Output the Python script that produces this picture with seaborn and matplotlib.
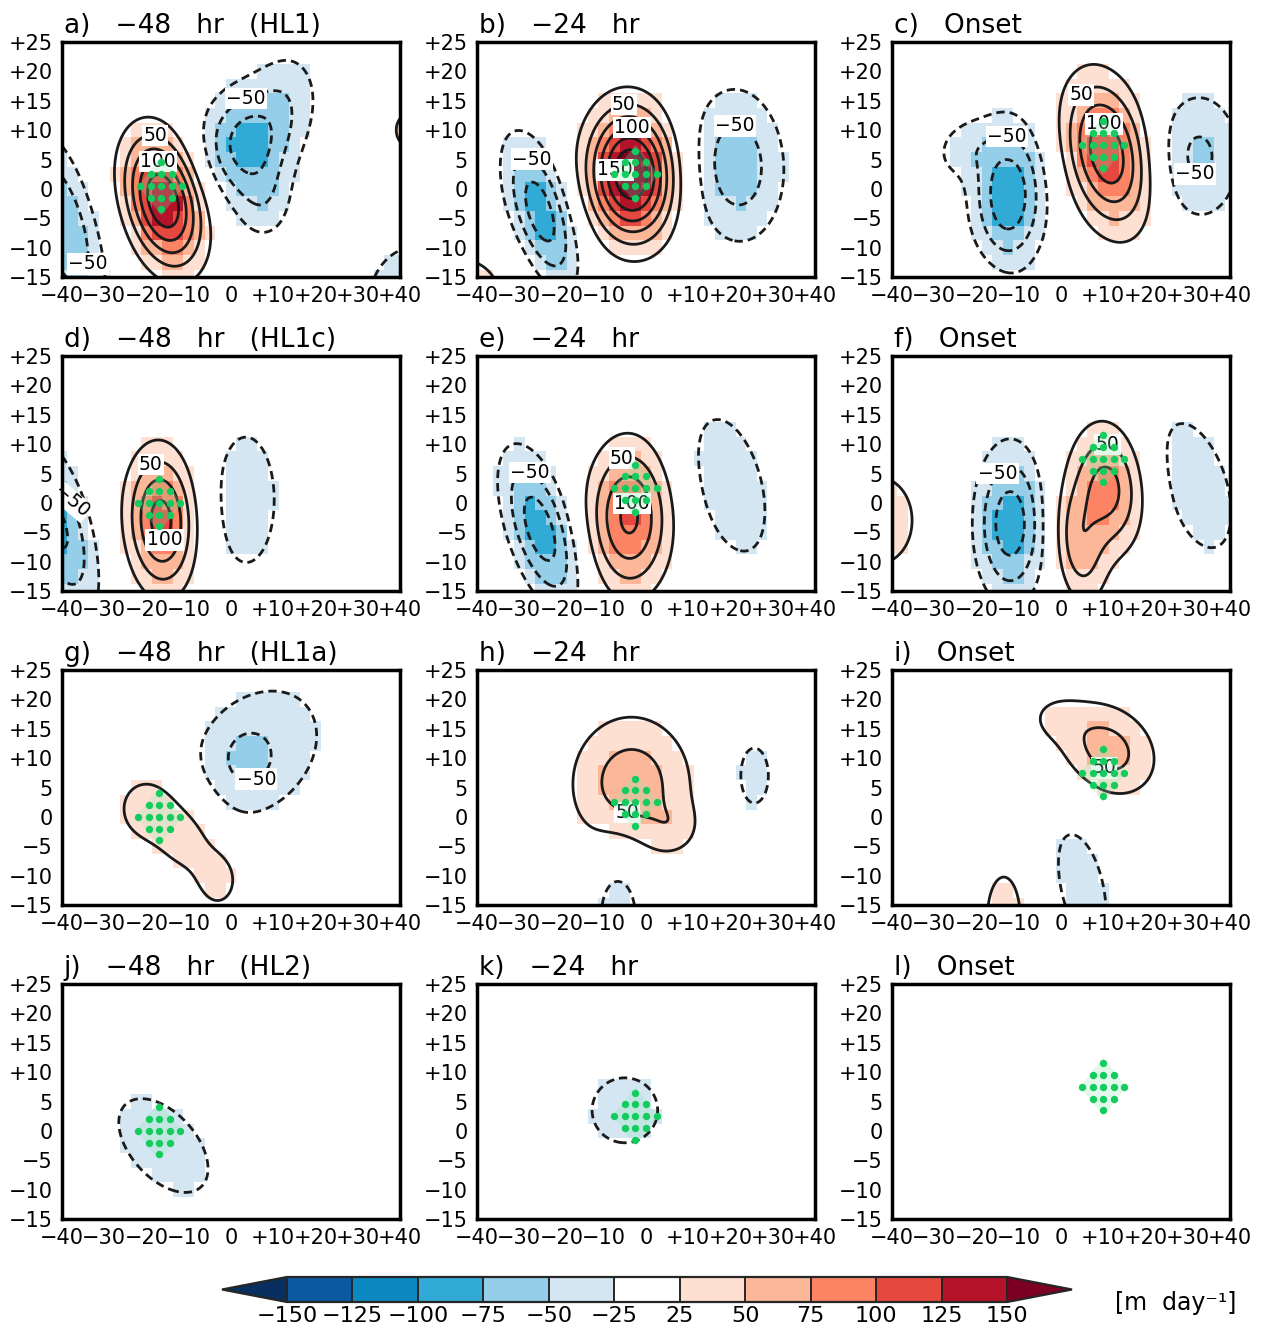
import numpy as np
import matplotlib
matplotlib.use("Agg")
import matplotlib.pyplot as plt
from matplotlib.colors import ListedColormap, BoundaryNorm
from matplotlib.cm import ScalarMappable
import seaborn as sns

# ------------------------------------------------------------------ data
PANEL_TITLES = ["a)   −48   hr   (HL1)", "b)   −24   hr", "c)   Onset",
                "d)   −48   hr   (HL1c)", "e)   −24   hr", "f)   Onset",
                "g)   −48   hr   (HL1a)", "h)   −24   hr", "i)   Onset",
                "j)   −48   hr   (HL2)", "k)   −24   hr", "l)   Onset"]

# anomaly centres:
# (x centre, y centre, peak value [m/day], half-width a, half-width b, axis angle deg)
BLOBS_A = [(-16, -2, 150, 8.0, 5.6, -62), (3, 7.5, -80, 7, 6.5, 0),
           (13, 15, -38, 7, 6, 60), (8, -3, -30, 5, 5, 0),
           (-40, -6, -75, 12, 5.2, -65), (42, -19, -45, 9, 8, 30),
           (42.5, 10, 40, 3.5, 3, 0)]
BLOBS_B = [(-3.5, 2.5, 175, 7.6, 6.8, -75), (-25, -4, -90, 9.5, 4.6, -63),
           (21.5, 4, -65, 9.4, 8, -80), (-43, -19, 40, 9, 7, 0)]
BLOBS_C = [(11, 6, 120, 9, 6.3, -65), (-12.5, -1, -95, 6, 8.5, 0),
           (-24, 7, -30, 5, 3.5, 20), (32.5, 5.5, -55, 7.5, 8, 0),
           (-28, -19.5, 32, 10, 4.8, -10)]
BLOBS_D = [(-16.5, -3, 110, 8, 5.5, -85), (-41, -4, -80, 11, 5, -65),
           (3.5, 0.5, -42, 6.6, 10.5, 0)]
BLOBS_E = [(-4, -2.5, 105, 8.5, 6.5, -88), (-25, -4.5, -90, 10, 4.8, -62),
           (20, 3, -45, 11, 6.5, -65)]
BLOBS_F = [(11, 2.5, 85, 7.5, 6, -80), (4, -8, 55, 7, 4, -75),
           (-12, -3.5, -90, 5.7, 9, 0), (32, 3, -40, 12, 7, -60),
           (-43, -3, 40, 8, 7.5, 0)]
BLOBS_G = [(-19, 1.5, 45, 6.5, 5, 0), (-10, -4, 38, 5, 4.5, 0),
           (-3, -10.5, 40, 4, 4, 0), (6, 11, -42, 14.5, 9.5, 20),
           (4, 10, -25, 4, 3.3, 0)]
BLOBS_H = [(-3.5, 5.5, 65, 10, 8.3, 0), (7, -2, 20, 4, 3, 0),
           (25.5, 7, -35, 4.3, 6, 0), (-6.5, -16, -40, 4.5, 8.5, 0)]
BLOBS_I = [(11, 11.5, 60, 8.5, 5.5, -15), (-2, 17, 20, 5, 3, 0),
           (-13.5, -17, 40, 4, 7, 0), (5, -12, -40, 10, 5, -70)]
BLOBS_J = [(-16, -2.5, -40, 12, 6.5, -30)]
BLOBS_K = [(-5, 3.5, -40, 8, 5.7, 0)]
BLOBS_L = []
PANEL_BLOBS = [BLOBS_A, BLOBS_B, BLOBS_C, BLOBS_D, BLOBS_E, BLOBS_F,
               BLOBS_G, BLOBS_H, BLOBS_I, BLOBS_J, BLOBS_K, BLOBS_L]

# significance (stippled) region centres
STIP_X = [-16.5, -2.5, 10, -17, -2.5, 10, -17, -2.5, 10, -17, -2.5, 10]
STIP_Y = [0.5, 2.5, 7.5, 0, 2.5, 7.5, 0, 2.5, 7.5, 0, 2.5, 7.5]

# contour labels: (near x, near y, level, rotation)
LABELS = [[(-18, 9.5, 50, 0), (-17, 5.5, 100, 0), (4, 14.5, -50, 0), (-37, -12.5, -50, 0)],
          [(-5, 13.5, 50, 0), (-3.5, 9.5, 100, 0), (-4, 3, 150, 0),
           (-27.5, 4.5, -50, 0), (21, 12, -50, 0)],
          [(5, 16, 50, 0), (10.5, 12.5, 100, 0), (-12.5, 9.5, -50, 0), (30, 1, -50, 0)],
          [(-18.5, 6, 50, 0), (-16, -6, 100, 0), (-37, 0.5, -50, -40)],
          [(-6, 8, 50, 0), (-3, 0, 100, 0), (-28, 4.5, -50, 0)],
          [(11, 10, 50, 0), (-15, 5, -50, 0)],
          [(6, 6.5, -50, 0)], [(-5, 0, 50, 0)], [(10, 8, 50, 0)], [], [], []]

BOUNDS = [-150, -125, -100, -75, -50, -25, 25, 50, 75, 100, 125, 150]
COLORS = ["#0a5aa2", "#0b88bf", "#31abd5", "#94cee8", "#d3e6f2", "#ffffff",
          "#fee0d2", "#fcb798", "#fc8464", "#e5483e", "#b5132a"]
UNDER_COLOR, OVER_COLOR = "#082f5f", "#7c0021"

X_TICKS = [-40, -30, -20, -10, 0, 10, 20, 30, 40]
X_LABELS = ["−40", "−30", "−20", "−10", "0", "+10", "+20", "+30", "+40"]
Y_TICKS = [-15, -10, -5, 0, 5, 10, 15, 20, 25]
Y_LABELS = ["−15", "−10", "−5", "0", "5", "+10", "+15", "+20", "+25"]

# ------------------------------------------------------------------ style
sns.set_theme(style="white")
plt.rcParams["font.family"] = ["DejaVu Sans"]
plt.rcParams["axes.linewidth"] = 2.5
plt.rcParams["text.color"] = "black"
plt.rcParams["xtick.color"] = "black"
plt.rcParams["ytick.color"] = "black"


def build_field(blobs, X, Y):
    Z = np.zeros_like(X, dtype=float)
    for x0, y0, amp, sa, sb, ang in blobs:
        t = np.deg2rad(ang)
        dx, dy = X - x0, Y - y0
        u = dx * np.cos(t) + dy * np.sin(t)
        v = -dx * np.sin(t) + dy * np.cos(t)
        Z += amp * np.exp(-0.5 * ((u / sa) ** 2 + (v / sb) ** 2))
    return Z


def nearest_on_level(cs, level, px, py):
    best = None
    for i, lev in enumerate(cs.levels):
        if lev != level:
            continue
        path = cs.get_paths()[i]
        verts = path.vertices
        if path.codes is not None:
            verts = verts[path.codes != 79]
        if len(verts) == 0:
            continue
        d = ((verts[:, 0] - px) * 4.2) ** 2 + ((verts[:, 1] - py) * 5.9) ** 2
        j = int(np.argmin(d))
        if best is None or d[j] < best[0]:
            best = (d[j], verts[j, 0], verts[j, 1])
    return best


cmap = ListedColormap(COLORS)
cmap.set_under(UNDER_COLOR)
cmap.set_over(OVER_COLOR)
norm = BoundaryNorm(BOUNDS, cmap.N)

xc = np.arange(-40, 40.01, 2.5)
yc = np.arange(-15, 25.01, 2.5)
XC, YC = np.meshgrid(xc, yc)
xf = np.linspace(-40, 40, 321)
yf = np.linspace(-15, 25, 161)
XF, YF = np.meshgrid(xf, yf)

W, H = 1262, 1330
fig = plt.figure(figsize=(W / 100, H / 100), dpi=100)
lefts = [62, 477, 892]
tops = [42, 356, 670, 984]
pw, ph = 338, 235

for k in range(12):
    r, c = divmod(k, 3)
    ax = fig.add_axes([lefts[c] / W, 1 - (tops[r] + ph) / H, pw / W, ph / H])
    blobs = PANEL_BLOBS[k]
    Zc = build_field(blobs, XC, YC)
    Zf = build_field(blobs, XF, YF)

    ax.pcolormesh(xc, yc, Zc, cmap=cmap, norm=norm, shading="nearest", zorder=1)

    if np.abs(Zf).max() > 25:
        styles = [(0, (3.0, 1.8)) if l < 0 else "solid" for l in BOUNDS]
        cs = ax.contour(XF, YF, Zf, levels=BOUNDS, colors="k",
                        linewidths=2.0, linestyles=styles, zorder=3)
        for px, py, lev, rot in LABELS[k]:
            best = nearest_on_level(cs, lev, px, py)
            if best is None:
                continue
            ax.text(best[1], best[2], f"{lev}".replace("-", "−"),
                    ha="center", va="center", fontsize=13.5, rotation=rot,
                    zorder=5, bbox=dict(facecolor="white", edgecolor="none", pad=1.0))

    # stippling of significant region
    cx, cy = STIP_X[k], STIP_Y[k]
    ax.fill([cx - 5.5, cx, cx + 5.5, cx], [cy, cy + 5, cy, cy - 5],
            color="#8fe6b0", alpha=0.25, lw=0, zorder=5.5)
    gx, gy = np.meshgrid(np.arange(-5, 5.01, 2.5), np.arange(-4, 4.01, 2.0))
    inside = np.abs(gx) / 5.6 + np.abs(gy) / 5.0 <= 1.0
    sns.scatterplot(x=cx + gx[inside], y=cy + gy[inside], ax=ax, color="#14cc5e",
                    s=28, linewidth=0, zorder=6, legend=False)

    ax.set_xlim(-40, 40)
    ax.set_ylim(-15, 25)
    ax.set_xticks(X_TICKS)
    ax.set_xticklabels(X_LABELS)
    ax.set_yticks(Y_TICKS)
    ax.set_yticklabels(Y_LABELS)
    ax.tick_params(axis="both", direction="out", length=5, width=1.5,
                   labelsize=15, pad=1.5, colors="black")
    ax.set_xlabel("")
    ax.set_ylabel("")
    for sp in ax.spines.values():
        sp.set_linewidth(2.5)
        sp.set_color("black")
        sp.set_zorder(7)
    ax.text(0.005, 1.038, PANEL_TITLES[k], transform=ax.transAxes,
            fontsize=19, ha="left", va="baseline", color="black")

# ------------------------------------------------------------------ colorbar
cax = fig.add_axes([222 / W, 1 - 1302 / H, 850 / W, 25 / H])
cb = fig.colorbar(ScalarMappable(norm=norm, cmap=cmap), cax=cax,
                  orientation="horizontal", extend="both", extendfrac=0.09,
                  drawedges=True, ticks=BOUNDS, spacing="uniform")
cb.outline.set_linewidth(1.6)
cb.dividers.set_linewidth(1.4)
cb.set_ticklabels([f"{b}".replace("-", "−") for b in BOUNDS])
cax.tick_params(length=0, labelsize=16, pad=3, colors="black")
fig.text(1176 / W, 1 - 1303 / H, "[m  day⁻¹]", ha="center", va="center",
         fontsize=17, color="black")

fig.savefig("out.png", dpi=100)
